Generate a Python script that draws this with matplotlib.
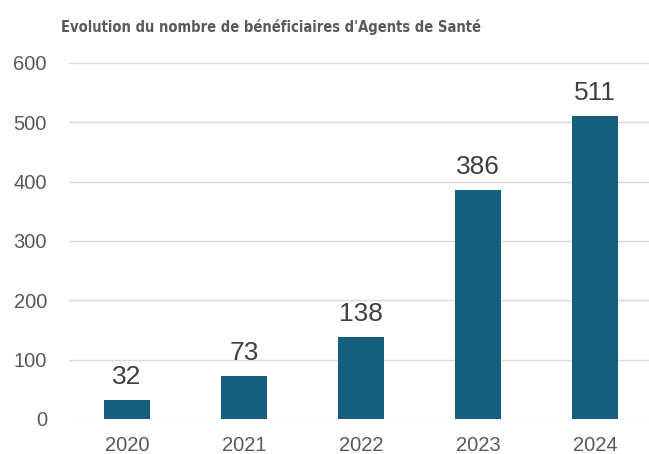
import matplotlib
matplotlib.use("Agg")
import matplotlib.pyplot as plt
from matplotlib import font_manager

years = ["2020", "2021", "2022", "2023", "2024"]
values = [32, 73, 138, 386, 511]
title = "Evolution du nombre de bénéficiaires d'Agents de Santé"
yticks = [0, 100, 200, 300, 400, 500, 600]

plt.rcParams['font.family'] = ['Liberation Sans', 'DejaVu Sans']

# pick a condensed bold face for the title if one is installed
title_font = None
for f in font_manager.fontManager.ttflist:
    nm = f.name.lower()
    if ('narrow' in nm or 'condensed' in nm or str(f.stretch) in ('condensed', 'semi-condensed')) \
            and 'cjk' not in nm:
        title_font = f
        break

fig = plt.figure(figsize=(6.49, 4.54), dpi=100)
ax = fig.add_axes([68.5/649, 35/454, 585/649, 356/454])
x = range(len(years))
ax.bar(x, values, width=0.4, color="#165E7E", zorder=3)
for xi, v in zip(x, values):
    ax.annotate(str(v), (xi, v), xytext=(0, 8), textcoords="offset points",
                ha="center", va="bottom", fontsize=19, color="#404040")
ax.set_xlim(-0.5, len(years) - 0.5)
ax.set_ylim(0, 600)
ax.set_yticks(yticks)
ax.set_xticks(list(x))
ax.set_xticklabels(years)
ax.tick_params(axis="both", length=0, labelsize=14.5, labelcolor="#595959")
ax.tick_params(axis="x", pad=12)
ax.tick_params(axis="y", pad=15.5)
ax.grid(axis="y", color="#D9D9D9", linewidth=1, zorder=0)
for s in ax.spines.values():
    s.set_visible(False)

kw = dict(ha="center", va="center", fontsize=14, fontweight="bold", color="#595959")
if title_font is not None:
    kw["family"] = [title_font.name, 'DejaVu Sans']
    kw["fontstretch"] = title_font.stretch
else:
    kw["family"] = ['Liberation Sans', 'DejaVu Sans']
t = fig.text(271/649, 1 - 27/454, title, **kw)
fig.canvas.draw()
bb = t.get_window_extent()
target = 422
if bb.width > target * 1.02:
    t.set_fontsize(14 * target / bb.width)
fig.savefig("out.png", dpi=100)
